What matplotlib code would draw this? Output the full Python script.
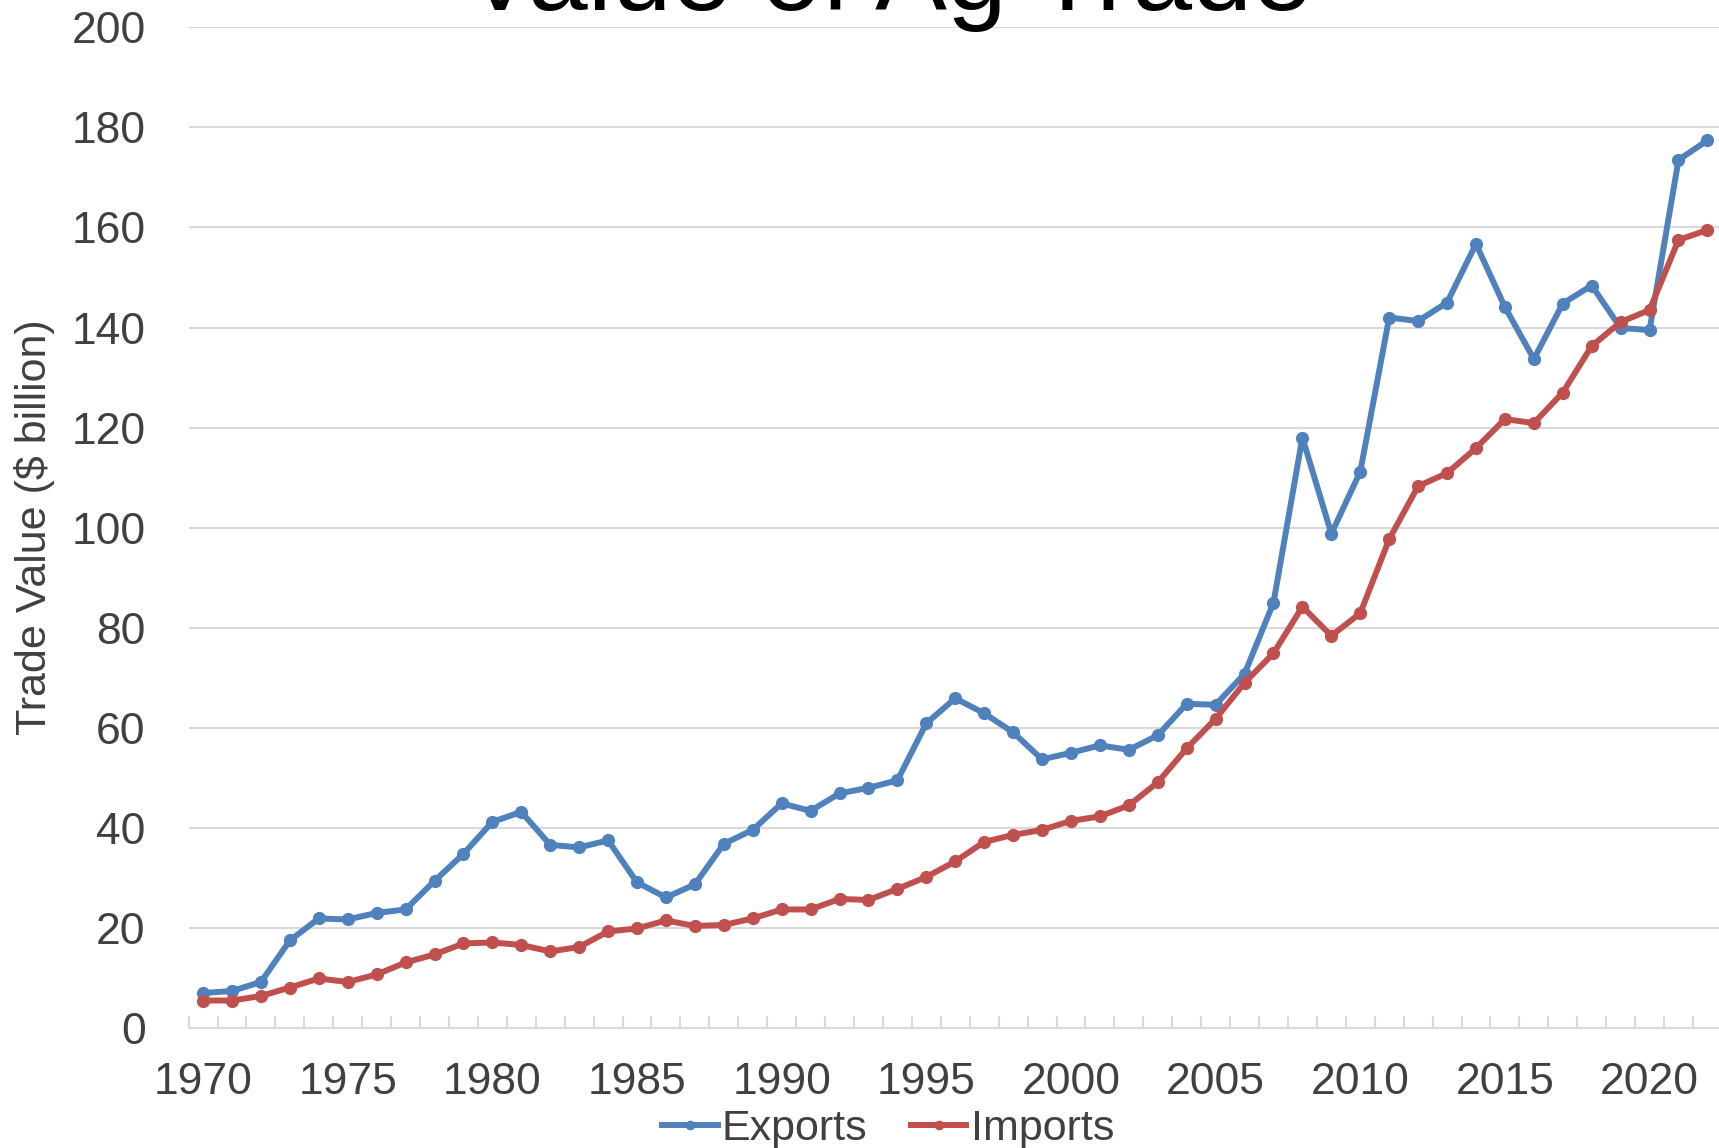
"""
Value of Ag Trade: US agricultural exports vs imports, 1970-2022.
"""

import numpy as np
import matplotlib.pyplot as plt
from matplotlib.ticker import MultipleLocator, FixedLocator

years = list(range(1970, 2023))

# $ billion
exports = [7.0, 7.4, 9.2, 17.5, 21.9, 21.7, 23.0, 23.7, 29.4, 34.8,
           41.2, 43.2, 36.6, 36.1, 37.5, 29.1, 26.1, 28.7, 36.8, 39.6,
           44.9, 43.4, 46.9, 48.0, 49.5, 60.9, 65.9, 62.9, 59.1, 53.7,
           55.0, 56.5, 55.6, 58.5, 64.8, 64.6, 70.8, 85.0, 118.0, 98.8,
           111.2, 142.0, 141.3, 145.0, 156.7, 144.1, 133.7, 144.8, 148.4, 139.9,
           139.5, 173.5, 177.4]
imports = [5.5, 5.5, 6.4, 8.1, 9.9, 9.2, 10.7, 13.1, 14.7, 16.9,
           17.1, 16.6, 15.3, 16.2, 19.3, 19.9, 21.5, 20.4, 20.6, 21.9,
           23.7, 23.7, 25.8, 25.6, 27.8, 30.2, 33.3, 37.2, 38.6, 39.6,
           41.4, 42.3, 44.5, 49.1, 55.9, 61.8, 69.0, 74.9, 84.2, 78.4,
           82.9, 97.7, 108.3, 110.9, 115.9, 121.7, 120.9, 127.0, 136.3, 141.1,
           143.5, 157.5, 159.5]

year_labels = list(range(1970, 2021, 5))

BLUE = '#4f81bd'
RED = '#c0504d'
GRID = '#d9d9d9'
TEXT = '#404040'

plt.rcParams['font.family'] = ['Liberation Sans', 'DejaVu Sans']

fig = plt.figure(figsize=(17.19, 11.48), dpi=100)
ax = fig.add_axes([188.6 / 1719, 0.1045, 1 - 188.6 / 1719, 0.8717])

ax.plot(years, exports, color=BLUE, linewidth=4.3, marker='o', markersize=8.5,
        label='Exports', solid_joinstyle='round', clip_on=False, zorder=3)
ax.plot(years, imports, color=RED, linewidth=4.3, marker='o', markersize=8.5,
        label='Imports', solid_joinstyle='round', clip_on=False, zorder=3)

ax.set_xlim(1969.5, 2022.4)
ax.set_ylim(0, 200)
ax.yaxis.set_major_locator(MultipleLocator(20))
ax.xaxis.set_major_locator(FixedLocator(year_labels))
ax.xaxis.set_minor_locator(FixedLocator(np.arange(1969.5, 2023, 1.0)))

ax.grid(axis='y', color=GRID, linewidth=1.5)
ax.set_axisbelow(True)
for side in ['top', 'right', 'left']:
    ax.spines[side].set_visible(False)
ax.spines['bottom'].set_color(GRID)
ax.spines['bottom'].set_linewidth(1.5)

ax.tick_params(axis='y', length=0, pad=31, labelsize=32, labelcolor=TEXT)
ax.tick_params(axis='x', which='major', length=0, pad=24.5, labelsize=32,
               labelcolor=TEXT)
ax.tick_params(axis='x', which='minor', direction='in', length=9,
               width=1.5, color=GRID)

ax.set_ylabel('Trade Value ($ billion)', fontsize=31, color=TEXT)
ax.yaxis.set_label_coords(-0.0873, 0.5)

fig.text(888 / 1719, 1 - 10 / 1148, 'Value of Ag Trade', fontsize=77.5,
         ha='center', va='baseline', color='black')

fig.legend(loc='center', bbox_to_anchor=(0.5165, 0.0166), ncol=2,
           fontsize=31, frameon=False, handlelength=1.3, handletextpad=0.1,
           columnspacing=1.0, markerscale=0.7, labelcolor=TEXT)

plt.savefig('out.png', dpi=100)
plt.close()
